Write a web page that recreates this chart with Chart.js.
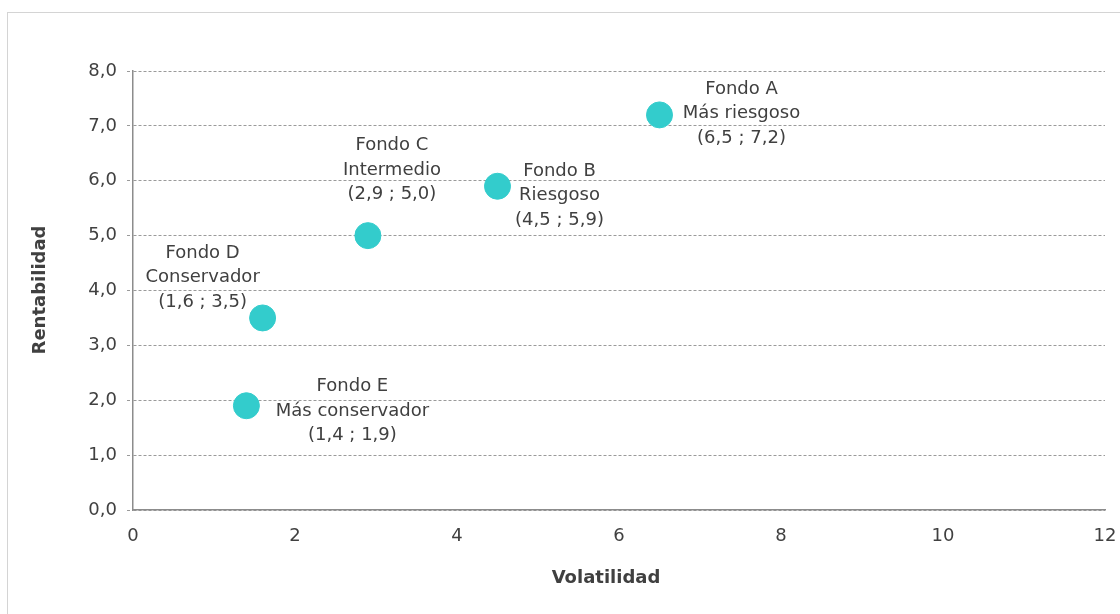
<!DOCTYPE html>
<html>
<head>
<meta charset="utf-8">
<script src="https://cdn.jsdelivr.net/npm/chart.js@4.4.1/dist/chart.umd.min.js"></script>
<style>
  html, body { margin: 0; padding: 0; background: #fff; }
  #wrap { position: relative; width: 1120px; height: 614px; overflow: hidden; }
  #marco { position: absolute; left: 7px; top: 12px; width: 1200px; height: 700px; border: 1px solid #d4d4d4; }
  canvas { position: absolute; left: 0; top: 0; }
</style>
</head>
<body>
<div id="wrap">
  <div id="marco"></div>
  <canvas id="grafico" width="1120" height="614"></canvas>
</div>
<script>
// Datos de los fondos (volatilidad vs rentabilidad)
const fondos = ['Fondo A', 'Fondo B', 'Fondo C', 'Fondo D', 'Fondo E'];
const perfiles = ['Más riesgoso', 'Riesgoso', 'Intermedio', 'Conservador', 'Más conservador'];
const volatilidad = [6.5, 4.5, 2.9, 1.6, 1.4];
const rentabilidad = [7.2, 5.9, 5.0, 3.5, 1.9];

// Desplazamiento de cada etiqueta respecto a su punto (px)
const desplazamientos = [[82, -26], [62, -15], [24, -90], [-60, -65], [106, -19]];

const fuente = '"DejaVu Sans", sans-serif';
const gris = '#404040';

function coma(v) { return v.toFixed(1).replace('.', ','); }

// Etiquetas de los puntos y títulos de los ejes
const etiquetas = {
  id: 'etiquetas',
  afterDatasetsDraw(chart) {
    const c = chart.ctx;
    const meta = chart.getDatasetMeta(0);
    c.save();
    c.fillStyle = gris;
    c.font = '18px ' + fuente;
    c.textAlign = 'center';
    c.textBaseline = 'middle';
    meta.data.forEach((p, i) => {
      const [dx, dy] = desplazamientos[i];
      const lineas = [fondos[i], perfiles[i], '(' + coma(volatilidad[i]) + ' ; ' + coma(rentabilidad[i]) + ')'];
      lineas.forEach((t, k) => c.fillText(t, p.x + dx, p.y + dy + k * 24.5));
    });
    // títulos de ejes
    c.font = 'bold 18px ' + fuente;
    c.fillText('Volatilidad', 606, 578);
    c.translate(40, 290);
    c.rotate(-Math.PI / 2);
    c.fillText('Rentabilidad', 0, 0);
    c.restore();
  }
};

const ctx = document.getElementById('grafico').getContext('2d');
new Chart(ctx, {
  type: 'scatter',
  data: {
    datasets: [{
      data: volatilidad.map((v, i) => ({ x: v, y: rentabilidad[i] })),
      backgroundColor: '#33CCCC',
      borderColor: '#33CCCC',
      pointRadius: 13,
      pointHoverRadius: 13
    }]
  },
  options: {
    responsive: false,
    animation: false,
    layout: { padding: { top: 71, right: 0, left: 0, bottom: 0 } },
    plugins: { legend: { display: false }, tooltip: { enabled: false } },
    scales: {
      x: {
        type: 'linear',
        min: 0, max: 12,
        ticks: { stepSize: 2, color: gris, font: { size: 18, family: fuente }, padding: 16 },
        grid: { drawOnChartArea: false, drawTicks: false },
        border: { display: true, color: '#8c8c8c', width: 1.5 },
        afterFit(s) { s.height = 104; s.paddingRight = 15; }
      },
      y: {
        min: 0, max: 8,
        ticks: { stepSize: 1, color: gris, font: { size: 18, family: fuente }, padding: 10,
          callback: v => coma(v) },
        grid: { color: '#9a9a9a', lineWidth: 1, tickLength: 6, tickBorderDash: [3, 2] },
        border: { display: true, color: '#8c8c8c', width: 1.5, dash: [3, 2] },
        afterFit(s) { s.width = 133; }
      }
    }
  },
  plugins: [etiquetas]
});
</script>
</body>
</html>
